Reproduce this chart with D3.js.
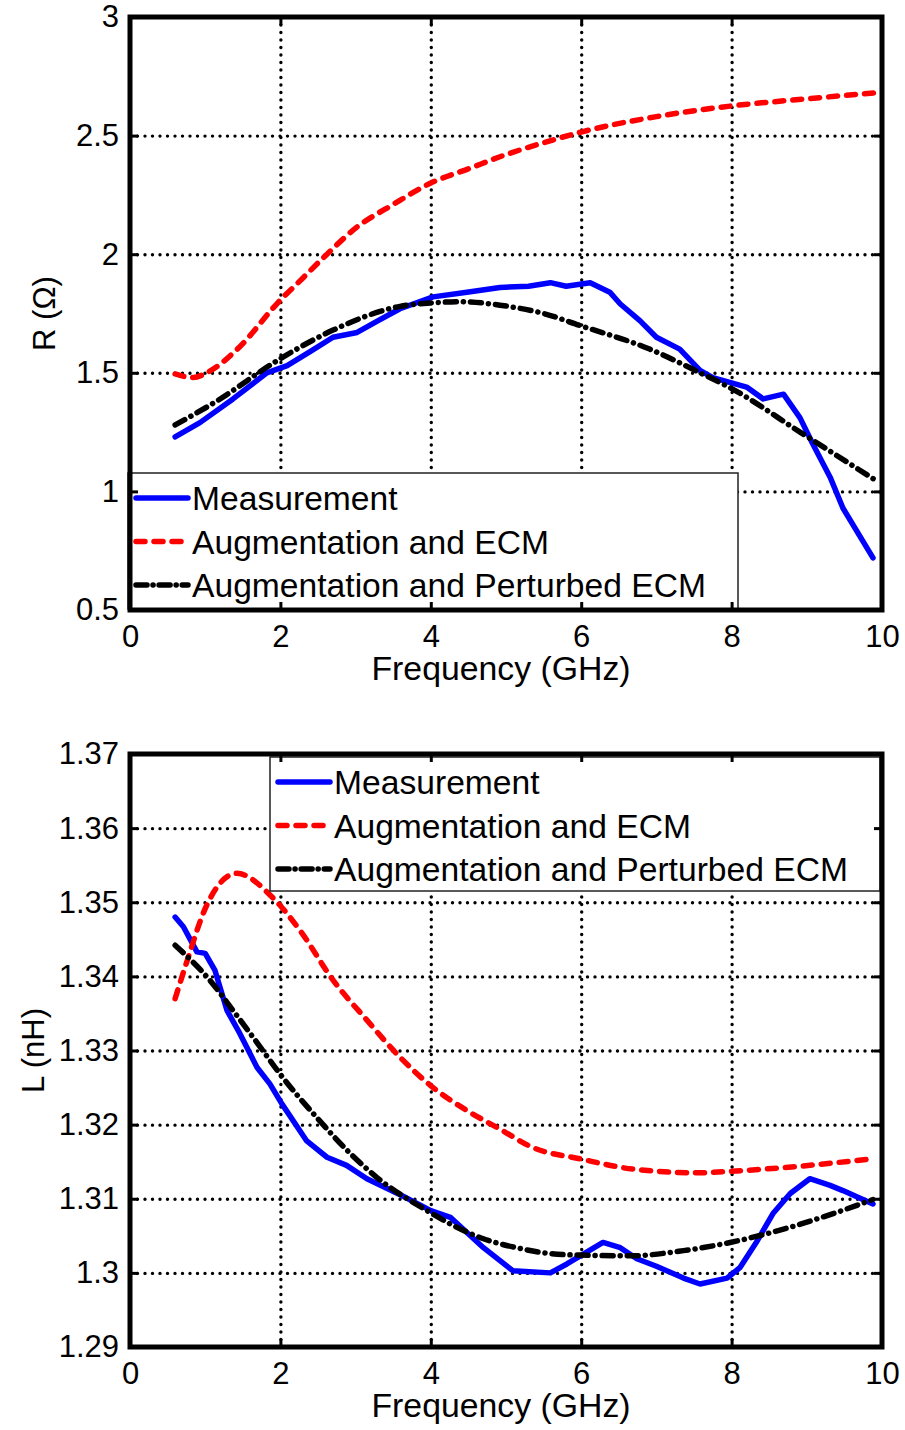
<!DOCTYPE html>
<html>
<head>
<meta charset="utf-8">
<script src="https://cdn.jsdelivr.net/npm/d3@7"></script>
<style>
  body { margin: 0; background: #fff; }
  text { font-family: "Liberation Sans", Arial, Helvetica, sans-serif; fill: #000; }
</style>
</head>
<body>
<div id="chart"></div>
<script>
var width = 905,
	height = 1430;

// top panel: resistance R (ohm)
var rMeasF = [0.6, 0.93, 1.37, 1.82, 2.09, 2.4, 2.7, 3.02, 3.3, 3.59, 4.03, 4.48, 4.92, 5.3, 5.59, 5.8, 6.12, 6.38, 6.52, 6.78, 7.0, 7.31, 7.58, 7.75, 8.2, 8.42, 8.69, 8.91, 9.08, 9.31, 9.48, 9.88];
var rMeas = [1.23, 1.29, 1.39, 1.50, 1.53, 1.59, 1.65, 1.67, 1.72, 1.77, 1.82, 1.84, 1.86, 1.865, 1.88, 1.865, 1.88, 1.84, 1.79, 1.72, 1.65, 1.60, 1.51, 1.48, 1.44, 1.39, 1.41, 1.31, 1.20, 1.06, 0.93, 0.72];
var rEcmF = [0.6, 0.84, 1.02, 1.46, 1.95, 2.3, 2.62, 3.0, 3.5, 4.0, 4.5, 5.0, 5.5, 6.0, 7.0, 8.0, 9.0, 9.9];
var rEcm = [1.495, 1.48, 1.50, 1.61, 1.79, 1.90, 2.0, 2.11, 2.21, 2.30, 2.36, 2.42, 2.47, 2.515, 2.58, 2.625, 2.655, 2.68];
var rPertF = [0.6, 1.15, 1.95, 2.7, 3.59, 4.03, 4.4, 4.92, 5.5, 5.98, 6.91, 7.58, 8.02, 8.91, 9.9];
var rPert = [1.28, 1.38, 1.55, 1.68, 1.78, 1.795, 1.80, 1.785, 1.75, 1.70, 1.60, 1.50, 1.43, 1.25, 1.05];

// bottom panel: inductance L (nH)
var lMeasF = [0.6, 0.71, 0.89, 1.0, 1.13, 1.29, 1.46, 1.69, 1.86, 2.02, 2.35, 2.62, 2.88, 3.15, 3.6, 4.0, 4.26, 4.7, 5.09, 5.59, 5.81, 6.29, 6.52, 6.74, 7.0, 7.36, 7.58, 7.94, 8.11, 8.34, 8.55, 8.78, 9.04, 9.31, 9.48, 9.88];
var lMeas = [1.3480, 1.3467, 1.3433, 1.3431, 1.3408, 1.3354, 1.3323, 1.3277, 1.3255, 1.3228, 1.3178, 1.3156, 1.3145, 1.3127, 1.3105, 1.3084, 1.3075, 1.3034, 1.3003, 1.3000, 1.3012, 1.3041, 1.3034, 1.3019, 1.3009, 1.2993, 1.2985, 1.2993, 1.3007, 1.3043, 1.3080, 1.3107, 1.3127, 1.3118, 1.3111, 1.3093];
var lEcmF = [0.6, 0.75, 1.02, 1.42, 1.9, 2.26, 2.7, 3.15, 3.59, 4.03, 4.48, 4.92, 5.36, 5.98, 6.69, 7.58, 7.98, 8.69, 9.88];
var lEcm = [1.3370, 1.3418, 1.3496, 1.3539, 1.3506, 1.3462, 1.3395, 1.3341, 1.3291, 1.3250, 1.3219, 1.3194, 1.3169, 1.3154, 1.3140, 1.3135, 1.3137, 1.3142, 1.3154];
var lPertF = [0.6, 1.06, 1.37, 1.73, 1.99, 2.48, 2.93, 3.28, 4.0, 4.26, 4.7, 5.14, 5.59, 5.98, 6.65, 7.36, 7.98, 8.69, 9.35, 9.88];
var lPert = [1.3442, 1.3395, 1.3354, 1.3305, 1.3269, 1.3210, 1.3161, 1.3129, 1.3081, 1.3066, 1.3046, 1.3034, 1.3026, 1.3024, 1.3023, 1.3030, 1.3041, 1.3059, 1.3080, 1.3099];

var xTicks = [0, 2, 4, 6, 8, 10];
var rTicks = [0.5, 1, 1.5, 2, 2.5, 3];
var lTicks = [1.29, 1.30, 1.31, 1.32, 1.33, 1.34, 1.35, 1.36, 1.37];
var legendNames = ['Measurement', 'Augmentation and ECM', 'Augmentation and Perturbed ECM'];

var svg = d3.select('#chart')
	.append('svg')
	.attr('width', width)
	.attr('height', height);

var styles = [
	{ color: '#0000ff', dash: null, curve: d3.curveLinear },
	{ color: '#ff0000', dash: '9,9', curve: d3.curveMonotoneX },
	{ color: '#000000', dash: '11,7,0.1,7', curve: d3.curveMonotoneX }
];

function panel(opt) {
	var x = d3.scaleLinear().domain([0, 10]).range([opt.left, opt.right]);
	var y = d3.scaleLinear().domain(opt.yDomain).range([opt.bottom, opt.top]);
	var g = svg.append('g');

	// dotted grid
	g.append('g')
		.attr('transform', `translate(0,${opt.bottom})`)
		.call(d3.axisBottom(x).tickValues(xTicks.slice(1, -1)).tickSize(-(opt.bottom - opt.top)).tickFormat(''))
		.call(s => s.select('.domain').remove());
	g.append('g')
		.attr('transform', `translate(${opt.left},0)`)
		.call(d3.axisLeft(y).tickValues(opt.yTicks.slice(1, -1)).tickSize(-(opt.right - opt.left)).tickFormat(''))
		.call(s => s.select('.domain').remove());
	g.selectAll('.tick line')
		.attr('stroke', '#000')
		.attr('stroke-width', 3.4)
		.attr('stroke-linecap', 'round')
		.attr('stroke-dasharray', '0,7.5');

	// series
	opt.series.forEach(function(s, i) {
		var pts = s.f.map((f, k) => [f, s.v[k]]);
		var line = d3.line()
			.x(d => x(d[0]))
			.y(d => y(d[1]))
			.curve(styles[i].curve);
		g.append('path')
			.attr('d', line(pts))
			.attr('fill', 'none')
			.attr('stroke', styles[i].color)
			.attr('stroke-width', 5.5)
			.attr('stroke-linecap', 'round')
			.attr('stroke-linejoin', 'round')
			.attr('stroke-dasharray', styles[i].dash);
	});

	// legend
	var lg = g.append('g').attr('transform', `translate(${opt.legend[0]},${opt.legend[1]})`);
	lg.append('rect')
		.attr('width', 610)
		.attr('height', opt.legend[2])
		.attr('fill', '#fff')
		.attr('stroke', '#222')
		.attr('stroke-width', 1.5);
	legendNames.forEach(function(name, i) {
		var cy = 25 + i * 43.5;
		lg.append('line')
			.attr('x1', 8).attr('x2', 60)
			.attr('y1', cy).attr('y2', cy)
			.attr('stroke', styles[i].color)
			.attr('stroke-width', 5.5)
			.attr('stroke-linecap', 'round')
			.attr('stroke-dasharray', i == 1 ? '9,9' : (i == 2 ? '11,6,0.1,6' : null));
		lg.append('text')
			.attr('transform', `translate(64,${cy + 12}) scale(1.035,1)`)
			.attr('font-size', 32.5)
			.text(name);
	});

	// axes, ticks inward on all four sides
	var tickStyle = function(s) {
		s.select('.domain').remove();
		s.selectAll('.tick line').attr('stroke', '#000').attr('stroke-width', 3);
		s.selectAll('.tick text').attr('font-size', 31).attr('font-family', '"Liberation Sans", Arial, sans-serif').attr('fill', '#000');
	};
	g.append('g')
		.attr('transform', `translate(0,${opt.bottom})`)
		.call(d3.axisBottom(x).tickValues(xTicks).tickSizeInner(-8).tickSizeOuter(0).tickPadding(15).tickFormat(d3.format('d')))
		.call(tickStyle);
	g.append('g')
		.attr('transform', `translate(0,${opt.top})`)
		.call(d3.axisTop(x).tickValues(xTicks).tickSizeInner(-8).tickSizeOuter(0).tickFormat(''))
		.call(tickStyle);
	g.append('g')
		.attr('transform', `translate(${opt.left},0)`)
		.call(d3.axisLeft(y).tickValues(opt.yTicks).tickSizeInner(-8).tickSizeOuter(0).tickPadding(11).tickFormat(opt.fmt))
		.call(tickStyle);
	g.append('g')
		.attr('transform', `translate(${opt.right},0)`)
		.call(d3.axisRight(y).tickValues(opt.yTicks).tickSizeInner(-8).tickSizeOuter(0).tickFormat(''))
		.call(tickStyle);

	g.append('rect')
		.attr('x', opt.left).attr('y', opt.top)
		.attr('width', opt.right - opt.left)
		.attr('height', opt.bottom - opt.top)
		.attr('fill', 'none')
		.attr('stroke', '#000')
		.attr('stroke-width', 5);

	g.append('text')
		.attr('transform', `translate(${(opt.left + opt.right) / 2 - 5},${opt.bottom + 70}) scale(1.04,1)`)
		.attr('text-anchor', 'middle')
		.attr('font-size', 32.5)
		.text('Frequency (GHz)');
	g.append('text')
		.attr('transform', `translate(${opt.ylabelX},${(opt.top + opt.bottom) / 2}) rotate(-90)`)
		.attr('text-anchor', 'middle')
		.attr('font-size', 31)
		.text(opt.ylabel);
}

panel({
	left: 130, right: 882, top: 17, bottom: 610,
	yDomain: [0.5, 3], yTicks: rTicks,
	fmt: d => d3.format('')(d),
	legend: [128, 473, 136],
	ylabel: 'R (\u03A9)', ylabelX: 55,
	series: [
		{ f: rMeasF, v: rMeas },
		{ f: rEcmF, v: rEcm },
		{ f: rPertF, v: rPert }
	]
});

panel({
	left: 130, right: 882, top: 754, bottom: 1347,
	yDomain: [1.29, 1.37], yTicks: lTicks,
	fmt: d => d.toFixed(2).replace(/0$/, '').replace(/\.0$/, '.3').replace(/^1\.3$/, '1.3'),
	legend: [270, 757, 134],
	ylabel: 'L (nH)', ylabelX: 44,
	series: [
		{ f: lMeasF, v: lMeas },
		{ f: lEcmF, v: lEcm },
		{ f: lPertF, v: lPert }
	]
});
</script>
</body>
</html>
